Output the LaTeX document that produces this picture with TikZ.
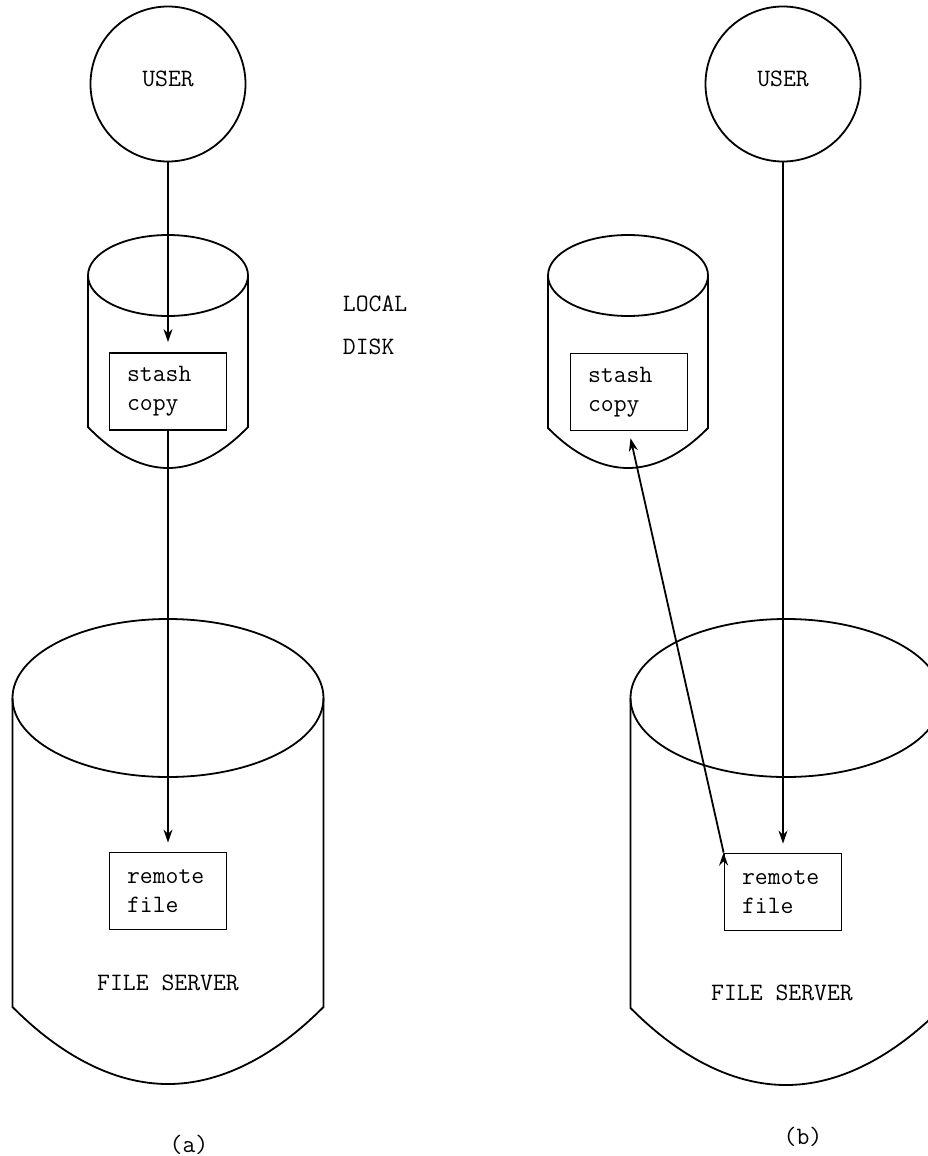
\documentclass[tikz,border=0pt]{standalone}
\usepackage{fontspec}
\usetikzlibrary{arrows.meta}
\begin{document}
\begin{tikzpicture}[x=1pt, y=-1pt, line width=1.8pt,
    font=\ttfamily\fontsize{25}{29}\selectfont,
    >={Stealth[length=13pt, width=9pt]},
    usr/.style={circle, draw, minimum size=155pt, inner sep=0pt},
    filebox/.style={draw, text width=82pt, align=left, inner xsep=17.5pt, minimum height=77pt},
    txt/.style={inner sep=0pt}]
    \useasboundingbox (0,0) rectangle (928,1156);
    \clip (0,0) rectangle (928,1156);

    % local disks
    \draw (88,275.5) -- (88,427) parabola bend (168,468) (248,427) -- (248,275.5);
    \draw (168,275.5) ellipse [x radius=80pt, y radius=40.5pt];
    \draw (548,275.5) -- (548,428) parabola bend (628,468) (708,428) -- (708,275.5);
    \draw (628,275.5) ellipse [x radius=80pt, y radius=40.5pt];

    % file servers
    \draw (12.5,698) -- (12.5,1007) parabola bend (168,1084) (323.5,1007) -- (323.5,698);
    \draw (168,698) ellipse [x radius=155.5pt, y radius=79pt];
    \draw (630.5,698) -- (630.5,1008) parabola bend (786,1085) (941.5,1008) -- (941.5,698);
    \draw (786,698) ellipse [x radius=155.5pt, y radius=79pt];

    \node[usr, label={[yshift=5pt]center:USER}] (u1) at (168,84) {};
    \node[filebox] (s1) at (168,391.5) {stash\\copy};
    \node[filebox] (r1) at (168,891) {remote\\file};
    \node[usr, label={[yshift=5pt]center:USER}] (u2) at (783,84) {};
    \node[filebox] (s2) at (629,392) {stash\\copy};
    \node[filebox] (r2) at (783,892) {remote\\file};

    \node[txt, anchor=base west] (loc) at (342,311) {LOCAL};
    \node[txt, anchor=base west] (dsk) at (342,354) {DISK};
    \node[txt] (fs1) at (168,983) {FILE SERVER};
    \node[txt] (fs2) at (782,993) {FILE SERVER};
    \node[txt] (capa) at (189,1145) {(a)};
    \node[txt] (capb) at (803,1137) {(b)};

    \draw[->]
    (u1) edge[shorten >=10pt] (s1)
    (s1) edge[shorten >=9pt] (r1)
    (u2) edge[shorten >=9pt] (r2)
    (r2.north west) edge[shorten >=7pt] (s2.south)
;

\end{tikzpicture}
\end{document}
